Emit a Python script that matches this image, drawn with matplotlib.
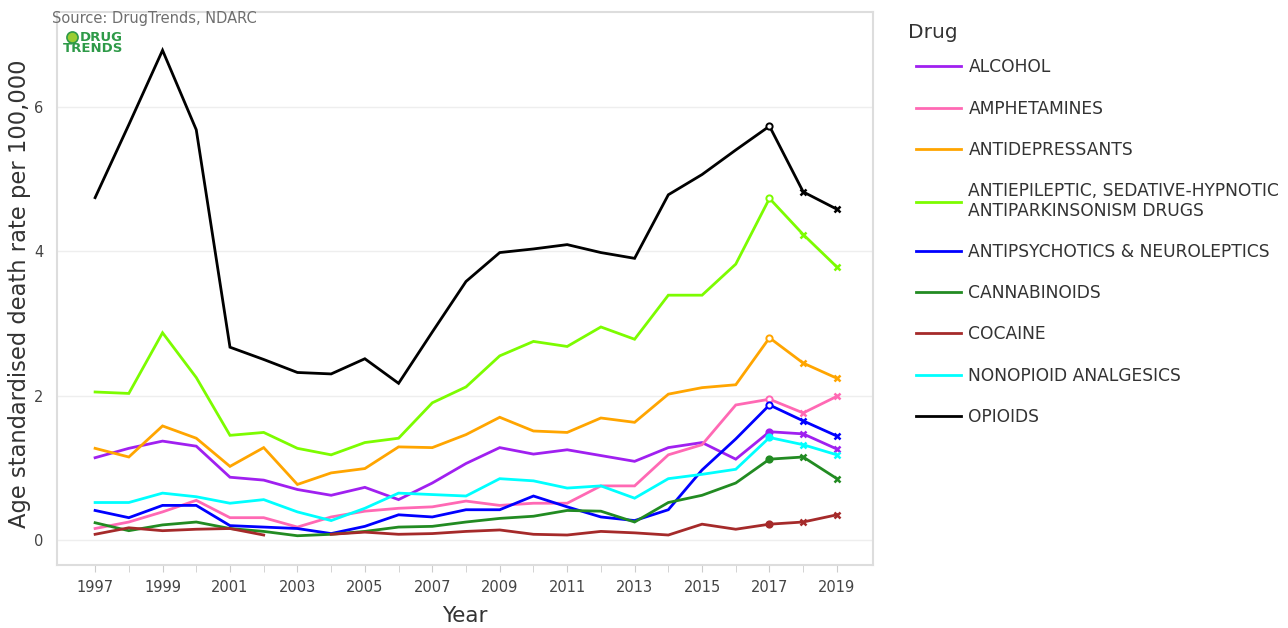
import numpy as np
import matplotlib
matplotlib.use("Agg")
import matplotlib.pyplot as plt
from matplotlib.lines import Line2D

years = list(range(1997, 2020))

alcohol = [1.14, 1.27, 1.37, 1.30, 0.87, 0.83, 0.70, 0.62, 0.73, 0.56, 0.79, 1.06, 1.28, 1.19, 1.25, 1.17, 1.09, 1.28, 1.35, 1.12, 1.50, 1.47, 1.26]
amphetamines = [0.16, 0.25, 0.39, 0.55, 0.31, 0.31, 0.18, 0.32, 0.40, 0.44, 0.46, 0.54, 0.48, 0.51, 0.51, 0.75, 0.75, 1.18, 1.32, 1.87, 1.95, 1.76, 1.99]
antidepressants = [1.27, 1.15, 1.58, 1.41, 1.02, 1.28, 0.77, 0.93, 0.99, 1.29, 1.28, 1.46, 1.70, 1.51, 1.49, 1.69, 1.63, 2.02, 2.11, 2.15, 2.80, 2.45, 2.24]
antiepileptic = [2.05, 2.03, 2.87, 2.25, 1.45, 1.49, 1.27, 1.18, 1.35, 1.41, 1.90, 2.12, 2.55, 2.75, 2.68, 2.95, 2.78, 3.39, 3.39, 3.82, 4.73, 4.23, 3.78]
antipsychotics = [0.41, 0.31, 0.48, 0.48, 0.20, 0.18, 0.16, 0.09, 0.19, 0.35, 0.32, 0.42, 0.42, 0.61, 0.46, 0.32, 0.27, 0.42, 0.97, 1.40, 1.87, 1.65, 1.44]
cannabinoids = [0.24, 0.13, 0.21, 0.25, 0.16, 0.12, 0.06, 0.08, 0.12, 0.18, 0.19, 0.25, 0.30, 0.33, 0.41, 0.40, 0.25, 0.52, 0.62, 0.79, 1.12, 1.15, 0.85]
cocaine = [0.08, 0.17, 0.13, 0.15, 0.16, 0.07, np.nan, 0.08, 0.11, 0.08, 0.09, 0.12, 0.14, 0.08, 0.07, 0.12, 0.10, 0.07, 0.22, 0.15, 0.22, 0.25, 0.35]
nonopioid = [0.52, 0.52, 0.65, 0.60, 0.51, 0.56, 0.39, 0.27, 0.44, 0.65, 0.63, 0.61, 0.85, 0.82, 0.72, 0.75, 0.58, 0.85, 0.91, 0.98, 1.42, 1.32, 1.18]
opioids = [4.74, 5.75, 6.78, 5.68, 2.67, 2.50, 2.32, 2.30, 2.51, 2.17, 2.88, 3.58, 3.98, 4.03, 4.09, 3.98, 3.90, 4.78, 5.06, 5.40, 5.73, 4.82, 4.58]

labels = ["ALCOHOL", "AMPHETAMINES", "ANTIDEPRESSANTS",
          "ANTIEPILEPTIC, SEDATIVE-HYPNOTIC\nANTIPARKINSONISM DRUGS",
          "ANTIPSYCHOTICS & NEUROLEPTICS", "CANNABINOIDS", "COCAINE",
          "NONOPIOID ANALGESICS", "OPIOIDS"]
series = [alcohol, amphetamines, antidepressants, antiepileptic, antipsychotics,
          cannabinoids, cocaine, nonopioid, opioids]
colors = ["#a020f0", "#ff69b4", "#ffa500", "#7cfc00", "#0000ff",
          "#228b22", "#a52a2a", "#00ffff", "#000000"]
filled_2017 = [True, False, False, False, False, True, True, True, False]

xticks = list(range(1997, 2020, 2))
yticks = [0, 2, 4, 6]

plt.rcParams['font.family'] = ['DejaVu Sans']
fig = plt.figure(figsize=(12.88, 6.28), dpi=100)
ax = fig.add_axes([57/1288, 63/628, (873-57)/1288, (565-12)/628])

yrs = np.array(years)
for vals, c, lab, filled in zip(series, colors, labels, filled_2017):
    v = np.array(vals, dtype=float)
    ax.plot(yrs, v, color=c, lw=2.0, label=lab, solid_joinstyle='miter', zorder=3)
    i17 = years.index(2017)
    ax.plot(yrs[i17], v[i17], marker='o', ms=4.5, mew=1.4, color=c,
            mfc=c if filled else 'white', zorder=4)
    ax.plot(yrs[i17+1:], v[i17+1:], ls='none', marker='x', ms=4.5, mew=1.8, color=c, zorder=4)

ax.set_xlim(1995.87, 2020.07)
ax.set_ylim(-0.345, 7.31)
ax.set_xticks(xticks)
ax.set_xticks(years, minor=True)
ax.set_yticks(yticks)
ax.tick_params(axis='x', which='both', length=5, color='#cccccc', labelsize=10.5, labelcolor='#444444', pad=6)
ax.tick_params(axis='y', length=0, labelsize=10.5, labelcolor='#444444', pad=10)
ax.grid(axis='y', color='#eeeeee', lw=1)
ax.set_axisbelow(True)
for s in ax.spines.values():
    s.set_color('#dddddd')
    s.set_linewidth(1.5)

ax.set_xlabel("Year", fontsize=15.5, color='#333333', labelpad=8)
ax.set_ylabel("Age standardised death rate per 100,000", fontsize=16.3, color='#333333')
ax.yaxis.set_label_coords(-26/816, (565 - 294)/553)

fig.text(52/1288, 1 - 18/628, "Source: DrugTrends, NDARC", fontsize=10.5, color='#6f6f6f', va='center')
fig.add_artist(Line2D([72/1288], [1 - 37/628], transform=fig.transFigure, marker='o', ms=8,
                      color='#9acd32', mec='#2e9a48', mew=1.2, ls='none'))
fig.text(123/1288, 1 - 43/628, "DRUG\nTRENDS", fontsize=9.5, color='#2e9a48', fontweight='bold',
         ha='right', va='center', multialignment='right', linespacing=0.85,
         family=['Liberation Sans Narrow', 'DejaVu Sans'])

fig.text(908/1288, 1 - 33/628, "Drug", fontsize=14.5, color='#333333', va='center', ha='left')
leg = ax.legend(loc='upper left', bbox_to_anchor=(901/1288, 1 - 43/628), bbox_transform=fig.transFigure,
                frameon=False, fontsize=12.3,
                handlelength=2.6, handletextpad=0.45, labelspacing=1.36, alignment='left')
for t in leg.get_texts():
    t.set_color('#333333')
    t.set_linespacing(1.12)

fig.savefig("out.png", dpi=100)
